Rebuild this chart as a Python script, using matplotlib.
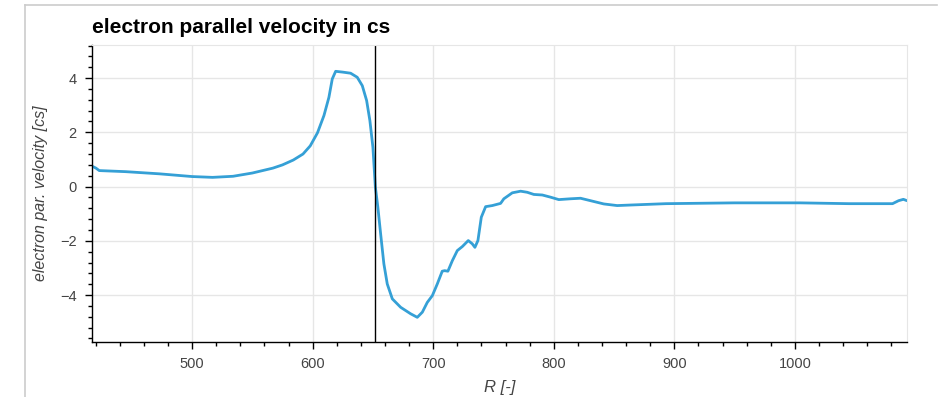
import matplotlib.pyplot as plt
from matplotlib.ticker import MultipleLocator
from matplotlib.lines import Line2D

plt.rcParams['font.family'] = ['Liberation Sans', 'DejaVu Sans']

# Values
R = [417.6, 420.3, 423, 445, 473, 500, 517, 534, 550, 567, 575, 584, 592,
     598, 604, 609.4, 613.5, 616.3, 619.1, 625, 631.5, 637, 641.2, 644.8,
     647.5, 650, 652, 654.1, 656.4, 659.1, 661.9, 666.1, 673, 681.3, 686.8,
     691, 695.1, 699.3, 703.4, 707.5, 709.5, 712.2, 715.9, 720, 724.2,
     729.1, 732.4, 734.6, 737.1, 739.9, 743.5, 749, 755.9, 758.6, 765.6,
     772.5, 778, 783.5, 790.5, 797.3, 804.2, 813.9, 822.2, 830.5, 841.5,
     852.6, 863.6, 893, 950, 1004, 1045, 1081, 1086, 1090, 1093]
v = [0.74, 0.68, 0.59, 0.55, 0.47, 0.37, 0.34, 0.38, 0.50, 0.68, 0.80, 0.98,
     1.2, 1.5, 1.98, 2.62, 3.29, 3.97, 4.25, 4.22, 4.18, 4.03, 3.72, 3.17,
     2.43, 1.45, 0.0, -0.76, -1.74, -2.85, -3.59, -4.14, -4.45, -4.69,
     -4.82, -4.63, -4.27, -4.02, -3.59, -3.12, -3.1, -3.12, -2.73, -2.36,
     -2.21, -1.99, -2.11, -2.24, -1.99, -1.13, -0.74, -0.70, -0.62, -0.45,
     -0.23, -0.17, -0.21, -0.29, -0.31, -0.39, -0.48, -0.45, -0.43, -0.52,
     -0.64, -0.70, -0.68, -0.63, -0.60, -0.60, -0.63, -0.63, -0.52, -0.47,
     -0.52]
R_sep = 652

fig = plt.figure(figsize=(9.47, 3.97), dpi=100)
W, H = 947, 397
ax = fig.add_axes([92 / W, 55 / H, (907 - 92) / W, (342 - 45) / H])

ax.plot(R, v, color='#35a0d6', lw=2.0, solid_joinstyle='round',
        solid_capstyle='round')
ax.axvline(R_sep, color='black', lw=1.0)

ax.set_xlim(417, 1093)
ax.set_ylim(-5.73, 5.22)

ax.xaxis.set_major_locator(MultipleLocator(100))
ax.xaxis.set_minor_locator(MultipleLocator(20))
ax.yaxis.set_major_locator(MultipleLocator(2))
ax.yaxis.set_minor_locator(MultipleLocator(0.4))

ax.grid(True, which='major', color='#e6e6e6', lw=1.0)
ax.set_axisbelow(True)

for side in ['top', 'right']:
    ax.spines[side].set_color('#e6e6e6')
for side in ['left', 'bottom']:
    ax.spines[side].set_color('black')
    ax.spines[side].set_linewidth(1.0)

ax.tick_params(which='major', direction='out', length=5, width=1, color='black',
               labelsize=10.5, labelcolor='#444444', pad=6)
ax.tick_params(which='minor', direction='out', length=3, width=1, color='black')
ax.set_yticks([-4, -2, 0, 2, 4])
ax.set_yticklabels(['\u22124', '\u22122', '0', '2', '4'])

ax.set_xlabel('R [-]', fontsize=12, style='italic', color='#444444', labelpad=6)
ax.set_ylabel('electron par. velocity [cs]', fontsize=11.5, style='italic',
              color='#444444', labelpad=9)

fig.text(92 / W, 1 - 33 / H, 'electron parallel velocity in cs', fontsize=15,
         fontweight='bold', va='baseline', ha='left')

# partial frame of the surrounding output cell
fig.add_artist(Line2D([25 / W, 937 / W], [1 - 5 / H, 1 - 5 / H],
                      color='#cccccc', lw=1.2, transform=fig.transFigure))
fig.add_artist(Line2D([25 / W, 25 / W], [0, 1 - 5 / H],
                      color='#cccccc', lw=1.2, transform=fig.transFigure))

fig.savefig('out.png', dpi=100)
